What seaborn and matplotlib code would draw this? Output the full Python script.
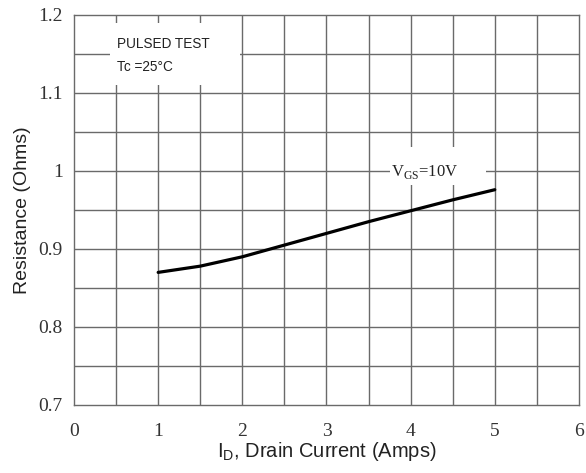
import matplotlib
matplotlib.use("Agg")
import matplotlib.pyplot as plt
import seaborn as sns
import pandas as pd

# On-resistance vs drain current, VGS = 10 V
drain_current = [1.0, 1.5, 2.0, 2.5, 3.0, 3.5, 4.0, 4.5, 5.0]
resistance = [0.870, 0.878, 0.890, 0.905, 0.920, 0.935, 0.949, 0.963, 0.976]

x_ticks = [0, 1, 2, 3, 4, 5, 6]
x_tick_labels = ["0", "1", "2", "3", "4", "5", "6"]
y_ticks = [0.7, 0.8, 0.9, 1.0, 1.1, 1.2]
y_tick_labels = ["0.7", "0.8", "0.9", "1", "1.1", "1.2"]

df = pd.DataFrame({"Id": drain_current, "R": resistance})

sns.set_theme(style="white")
fig = plt.figure(figsize=(5.86, 4.73), dpi=100)
ax = fig.add_axes([0.1263, 0.1438, 0.8617, 0.8245])

sns.lineplot(data=df, x="Id", y="R", ax=ax, color="black", linewidth=2.3, zorder=5)

ax.set_xlim(0, 6)
ax.set_ylim(0.7, 1.2)

grid_color = "#6a6a6a"
for i in range(1, 12):
    ax.axvline(i * 0.5, color=grid_color, lw=1.0, zorder=1)
for j in range(1, 10):
    ax.axhline(0.7 + j * 0.05, color=grid_color, lw=1.0, zorder=1)

for s in ax.spines.values():
    s.set_color(grid_color)
    s.set_linewidth(1.0)

ax.set_xticks(x_ticks)
ax.set_xticklabels(x_tick_labels, family="Liberation Serif", fontsize=14, color="#333333")
ax.set_yticks(y_ticks)
ax.set_yticklabels(y_tick_labels, family="Liberation Serif", fontsize=14, color="#333333")
ax.tick_params(axis="x", length=0, pad=13)
ax.tick_params(axis="y", length=0, pad=8)

ax.set_xlabel("I$_\\mathregular{D}$, Drain Current (Amps)", family="Liberation Sans",
              fontsize=14.5, color="#222222", labelpad=0)
ax.set_ylabel("Resistance (Ohms)", family="Liberation Sans", fontsize=14,
              color="#222222", labelpad=5)

# White label box in the upper-left corner
ax.add_patch(plt.Rectangle((0.43, 1.110), 1.54, 0.080, facecolor="white",
                           edgecolor="none", zorder=3))
ax.text(0.51, 1.163, "PULSED TEST", family="Liberation Sans", fontsize=9.8,
        color="#222222", va="center", zorder=4)
ax.text(0.51, 1.133, "Tc =25°C", family="Liberation Sans", fontsize=9.8,
        color="#222222", va="center", zorder=4)

# Curve label
ax.add_patch(plt.Rectangle((3.75, 0.982), 1.15, 0.049, facecolor="white",
                           edgecolor="none", zorder=3))
ax.text(4.17, 0.999, "V$_\\mathregular{GS}$=10V", family="Liberation Serif", fontsize=12,
        color="#222222", va="center", ha="center", zorder=4)

fig.savefig("out.png", dpi=100)
